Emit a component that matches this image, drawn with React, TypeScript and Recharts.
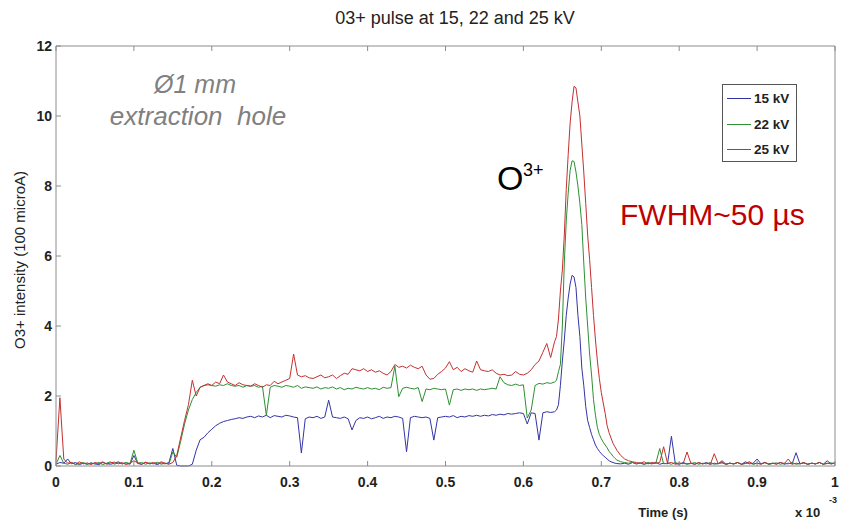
import { LineChart, Line, XAxis, YAxis, Legend } from 'recharts';

// scope trace sampled every 5 µs (x axis in units of 1e-3 s), finer 2.5 µs around the peak
const COARSE_STEP = 0.005;
const FINE_STEP = 0.0025;
const PEAK_START = 0.6425;
const TAIL_START = 0.725;

// 0 .. 0.64
const kv25Head = [
  0.15, 1.95, 0.2, 0.08, 0.1, 0.05, 0.12, 0.06, 0.09, 0.04,
  0.1, 0.07, 0.12, 0.05, 0.09, 0.11, 0.06, 0.1, 0.04, 0.08,
  0.15, 0.09, 0.05, 0.11, 0.07, 0.1, 0.06, 0.12, 0.08, 0.05,
  0.1, 0.3, 0.8, 1.3, 1.75, 2.45, 2.0, 2.25, 2.3, 2.35,
  2.3, 2.4, 2.35, 2.6, 2.4, 2.35, 2.3, 2.38, 2.32, 2.3,
  2.28, 2.35, 2.3, 2.25, 2.32, 2.3, 2.42, 2.35, 2.4, 2.45,
  2.5, 3.2, 2.6, 2.55, 2.58, 2.52, 2.5, 2.55, 2.6, 2.52,
  2.55, 2.6, 2.5, 2.58, 2.65, 2.62, 2.78, 2.75, 2.72, 2.78,
  2.7, 2.75, 2.68, 2.72, 2.65, 2.6, 2.7, 2.9, 2.82, 2.85,
  2.8, 2.88, 2.82, 2.78, 2.85, 2.6, 2.48, 2.5, 2.62, 2.7,
  2.8, 2.98, 2.75, 2.82, 2.7, 2.78, 2.72, 2.68, 3.0, 2.75,
  2.72, 2.7, 2.75, 2.65, 2.6, 2.62, 2.58, 2.6, 2.7, 2.62,
  2.6, 2.65, 2.75, 2.9, 3.0, 3.25, 3.5, 3.1, 3.55,
];
const kv22Head = [
  0.05, 0.3, 0.08, 0.05, 0.1, 0.04, 0.07, 0.1, 0.05, 0.08,
  0.06, 0.1, 0.04, 0.08, 0.12, 0.05, 0.09, 0.06, 0.1, 0.07,
  0.45, 0.08, 0.1, 0.05, 0.09, 0.06, 0.11, 0.05, 0.08, 0.06,
  0.4, 0.25, 0.7, 1.2, 1.6, 1.9, 2.1, 2.25, 2.3, 2.32,
  2.3, 2.28, 2.32, 2.3, 2.35, 2.3, 2.28, 2.3, 2.25, 2.3,
  2.28, 2.3, 2.25, 2.28, 1.45, 2.25, 2.3, 2.28, 2.25, 2.3,
  2.28, 2.25, 2.3, 2.22, 2.26, 2.24, 2.22, 2.26, 2.2, 2.24,
  2.22, 2.26, 2.2, 2.24, 2.18, 2.22, 2.2, 2.25, 2.22, 2.2,
  2.24, 2.2, 2.22, 2.18, 2.25, 2.22, 2.24, 2.85, 1.98, 2.22,
  2.25, 2.22, 2.2, 2.24, 1.84, 2.2, 2.18, 2.22, 2.2, 2.18,
  2.2, 1.74, 2.18, 2.2, 2.16, 2.2, 2.18, 2.2, 2.16, 2.2,
  2.18, 2.2, 2.22, 2.2, 2.55, 2.38, 2.32, 2.3, 2.34, 2.3,
  2.32, 1.37, 1.6, 2.3, 2.36, 2.34, 2.38, 2.36, 2.4,
];
const kv15Head = [
  0.05, 0.1, 0.08, 0.2, 0.06, 0.1, 0.04, 0.08, 0.05, 0.09,
  0.06, 0.04, 0.1, 0.07, 0.05, 0.08, 0.12, 0.06, 0.09, 0.05,
  0.3, 0.07, 0.05, 0.1, 0.06, 0.08, 0.04, 0.09, 0.06, 0.1,
  0.5, 0.02, 0.0, 0.0, 0.0, 0.05, 0.45, 0.75, 0.82, 0.95,
  1.05, 1.15, 1.22, 1.27, 1.3, 1.33, 1.35, 1.38, 1.36, 1.4,
  1.42, 1.38, 1.43, 1.4, 1.45, 1.38, 1.44, 1.42, 1.4, 1.45,
  1.43, 1.4, 1.38, 0.37, 1.35, 1.4, 1.38, 1.42, 1.36, 1.4,
  1.88, 1.4, 1.38, 1.36, 1.4, 1.35, 1.03, 1.3, 1.38, 1.36,
  1.4, 1.35, 1.38, 1.42, 1.36, 1.4, 1.38, 1.42, 1.4, 1.36,
  0.41, 1.38, 1.42, 1.4, 1.38, 1.4, 1.36, 0.74, 1.38, 1.4,
  1.42, 1.4, 1.44, 1.38, 1.42, 1.4, 1.44, 1.42, 1.45, 1.42,
  1.45, 1.43, 1.47, 1.45, 1.48, 1.46, 1.5, 1.48, 1.5, 1.52,
  1.5, 1.2, 1.52, 1.5, 0.74, 1.52, 1.55, 1.53, 1.55,
];

// 0.6425 .. 0.72
const kv25Peak = [
  3.7, 4.2, 5.0, 5.6, 6.6, 7.9, 8.9, 9.8, 10.4, 10.85,
  10.8, 10.4, 10.0, 9.2, 8.4, 7.5, 6.6, 5.9, 5.1, 4.3,
  3.6, 3.0, 2.5, 2.1, 1.8, 1.5, 1.15, 0.95, 0.8, 0.65,
  0.55, 0.45,
];
const kv22Peak = [
  2.45, 2.7, 2.9, 4.0, 5.8, 7.0, 7.8, 8.45, 8.72, 8.7,
  8.4, 8.0, 7.5, 6.9, 5.8, 4.8, 4.0, 3.2, 2.6, 1.9,
  1.45, 1.1, 0.9, 0.78, 0.68, 0.6, 0.52, 0.42, 0.35, 0.28,
  0.22, 0.17,
];
const kv15Peak = [
  1.6, 1.75, 2.3, 3.0, 3.6, 4.3, 4.8, 5.2, 5.45, 5.4,
  5.1, 4.3, 3.7, 2.8, 2.3, 1.7, 1.3, 1.1, 0.9, 0.75,
  0.6, 0.5, 0.42, 0.35, 0.3, 0.25, 0.2, 0.15, 0.12, 0.1,
  0.08, 0.07,
];

// 0.725 .. 1.0
const kv25Tail = [
  0.3, 0.2, 0.15, 0.12, 0.1, 0.08, 0.12, 0.06, 0.1, 0.08,
  0.1, 0.55, 0.08, 0.1, 0.05, 0.09, 0.06, 0.4, 0.08, 0.05,
  0.1, 0.06, 0.08, 0.05, 0.35, 0.07, 0.1, 0.05, 0.08, 0.06,
  0.1, 0.05, 0.08, 0.12, 0.06, 0.08, 0.05, 0.1, 0.06, 0.08,
  0.05, 0.1, 0.07, 0.2, 0.05, 0.08, 0.06, 0.1, 0.05, 0.08,
  0.06, 0.1, 0.05, 0.08, 0.06, 0.1,
];
const kv22Tail = [
  0.12, 0.1, 0.08, 0.1, 0.06, 0.08, 0.05, 0.1, 0.07, 0.08,
  0.5, 0.06, 0.08, 0.05, 0.1, 0.06, 0.08, 0.05, 0.07, 0.1,
  0.05, 0.08, 0.06, 0.1, 0.05, 0.07, 0.09, 0.05, 0.08, 0.06,
  0.1, 0.05, 0.07, 0.09, 0.05, 0.08, 0.06, 0.1, 0.05, 0.07,
  0.09, 0.05, 0.08, 0.06, 0.1, 0.05, 0.07, 0.09, 0.05, 0.08,
  0.06, 0.1, 0.05, 0.07, 0.09, 0.06,
];
const kv15Tail = [
  0.06, 0.08, 0.05, 0.1, 0.06, 0.09, 0.05, 0.08, 0.06, 0.1,
  0.05, 0.08, 0.06, 0.85, 0.07, 0.05, 0.1, 0.06, 0.08, 0.05,
  0.09, 0.06, 0.1, 0.05, 0.08, 0.06, 0.15, 0.05, 0.08, 0.06,
  0.1, 0.05, 0.12, 0.06, 0.08, 0.2, 0.06, 0.1, 0.05, 0.08,
  0.06, 0.1, 0.05, 0.08, 0.06, 0.38, 0.06, 0.09, 0.05, 0.08,
  0.06, 0.1, 0.05, 0.15, 0.06, 0.08,
];

const xTicks = [0, 0.1, 0.2, 0.3, 0.4, 0.5, 0.6, 0.7, 0.8, 0.9, 1];
const xTickLabels = ['0', '0.1', '0.2', '0.3', '0.4', '0.5', '0.6', '0.7', '0.8', '0.9', '1'];
const yTicks = [0, 2, 4, 6, 8, 10, 12];

const round = (v: number) => Math.round(v * 10000) / 10000;
const times = [
  ...kv25Head.map((_, i) => round(i * COARSE_STEP)),
  ...kv25Peak.map((_, i) => round(PEAK_START + i * FINE_STEP)),
  ...kv25Tail.map((_, i) => round(TAIL_START + i * COARSE_STEP)),
];
const kv15 = [...kv15Head, ...kv15Peak, ...kv15Tail];
const kv22 = [...kv22Head, ...kv22Peak, ...kv22Tail];
const kv25 = [...kv25Head, ...kv25Peak, ...kv25Tail];
const rows = times.map((t, i) => ({ t, kv15: kv15[i], kv22: kv22[i], kv25: kv25[i] }));

const FONT = '"Liberation Sans", Arial, Helvetica, sans-serif';
const AXIS_GREY = '#8c8c8c';
const TICK_LEN = 5;

function BottomTick({ x, y, payload }: any) {
  const label = xTickLabels[xTicks.indexOf(payload.value)];
  return (
    <g>
      <line x1={x} y1={y} x2={x} y2={y - TICK_LEN} stroke={AXIS_GREY} />
      <text x={x} y={y + 21} textAnchor="middle" fontSize={14} fontWeight="bold" fill="#222" fontFamily={FONT}>
        {label}
      </text>
    </g>
  );
}

function TopTick({ x, y }: any) {
  return <line x1={x} y1={y} x2={x} y2={y + TICK_LEN} stroke={AXIS_GREY} />;
}

function LeftTick({ x, y, payload }: any) {
  return (
    <g>
      <line x1={x} y1={y} x2={x + TICK_LEN} y2={y} stroke={AXIS_GREY} />
      <text x={x - 4} y={y + 5} textAnchor="end" fontSize={14} fontWeight="bold" fill="#222" fontFamily={FONT}>
        {payload.value}
      </text>
    </g>
  );
}

function RightTick({ x, y }: any) {
  return <line x1={x} y1={y} x2={x - TICK_LEN} y2={y} stroke={AXIS_GREY} />;
}

function LegendBox({ payload }: any) {
  return (
    <div
      style={{
        width: 75,
        height: 78,
        boxSizing: 'border-box',
        border: '1px solid #555',
        background: '#fff',
        paddingTop: 1,
        fontFamily: FONT,
      }}
    >
      {(payload || []).map((p: any) => (
        <div key={p.value} style={{ display: 'flex', alignItems: 'center', height: 25.5 }}>
          <span style={{ marginLeft: 4, width: 24, borderTop: `1px solid ${p.color}` }} />
          <span style={{ marginLeft: 3, fontSize: 13.5, fontWeight: 'bold', color: '#222', whiteSpace: 'nowrap' }}>{p.value}</span>
        </div>
      ))}
    </div>
  );
}

export default function App() {
  return (
    <div style={{ position: 'absolute', left: 0, top: 0, width: 847, height: 523, background: '#fff' }}>
      <LineChart width={847} height={523} data={rows} margin={{ top: 45, right: 11, bottom: 56, left: 55 }}>
        <XAxis
          dataKey="t"
          type="number"
          domain={[0, 1]}
          ticks={xTicks}
          height={1}
          tickSize={0}
          tickMargin={0}
          tickLine={false}
          axisLine={{ stroke: AXIS_GREY }}
          tick={<BottomTick />}
          interval={0}
        />
        <XAxis
          xAxisId="top"
          orientation="top"
          dataKey="t"
          type="number"
          domain={[0, 1]}
          ticks={xTicks}
          height={1}
          tickSize={0}
          tickMargin={0}
          tickLine={false}
          axisLine={{ stroke: AXIS_GREY }}
          tick={<TopTick />}
          interval={0}
        />
        <YAxis
          type="number"
          domain={[0, 12]}
          ticks={yTicks}
          width={1}
          tickSize={0}
          tickMargin={0}
          tickLine={false}
          axisLine={{ stroke: AXIS_GREY }}
          tick={<LeftTick />}
          interval={0}
        />
        <YAxis
          yAxisId="right"
          orientation="right"
          type="number"
          domain={[0, 12]}
          ticks={yTicks}
          width={1}
          tickSize={0}
          tickMargin={0}
          tickLine={false}
          axisLine={{ stroke: AXIS_GREY }}
          tick={<RightTick />}
          interval={0}
        />
        <Legend
          layout="vertical"
          align="center"
          verticalAlign="middle"
          wrapperStyle={{ left: 722, top: 84, width: 75, height: 78 }}
          content={<LegendBox />}
        />
        <Line name="15 kV" dataKey="kv15" type="linear" stroke="#3434a6" strokeWidth={1} dot={false} isAnimationActive={false} />
        <Line name="22 kV" dataKey="kv22" type="linear" stroke="#2e8f33" strokeWidth={1} dot={false} isAnimationActive={false} />
        <Line name="25 kV" dataKey="kv25" type="linear" stroke="#c43030" strokeWidth={1} dot={false} isAnimationActive={false} />
      </LineChart>

      <svg width={847} height={523} style={{ position: 'absolute', left: 0, top: 0, pointerEvents: 'none' }} fontFamily={FONT}>
        <text x={455} y={24} textAnchor="middle" fontSize={18} fill="#222">03+ pulse at 15, 22 and 25 kV</text>
        <text transform="translate(25,260) rotate(-90)" textAnchor="middle" fontSize={15} fill="#222">O3+ intensity (100 microA)</text>
        <text x={663} y={517} textAnchor="middle" fontSize={13} fontWeight="bold" fill="#222">Time (s)</text>
        <text x={795} y={517} fontSize={13} fontWeight="bold" fill="#222">x 10</text>
        <text x={829} y={503} fontSize={9} fontWeight="bold" fill="#222">-3</text>

        <text x={195} y={93} textAnchor="middle" fontSize={25} fontStyle="italic" fill="#808080">Ø1 mm</text>
        <text x={198} y={125} textAnchor="middle" fontSize={26} fontStyle="italic" fill="#808080" style={{ whiteSpace: 'pre' }}>extraction  hole</text>

        <text x={497} y={190} fontSize={34} fill="#000">O</text>
        <text x={523} y={176} fontSize={18} fill="#000">3+</text>
        <text x={620} y={225} fontSize={30} fill="#c00000">FWHM~50 µs</text>
      </svg>
    </div>
  );
}
